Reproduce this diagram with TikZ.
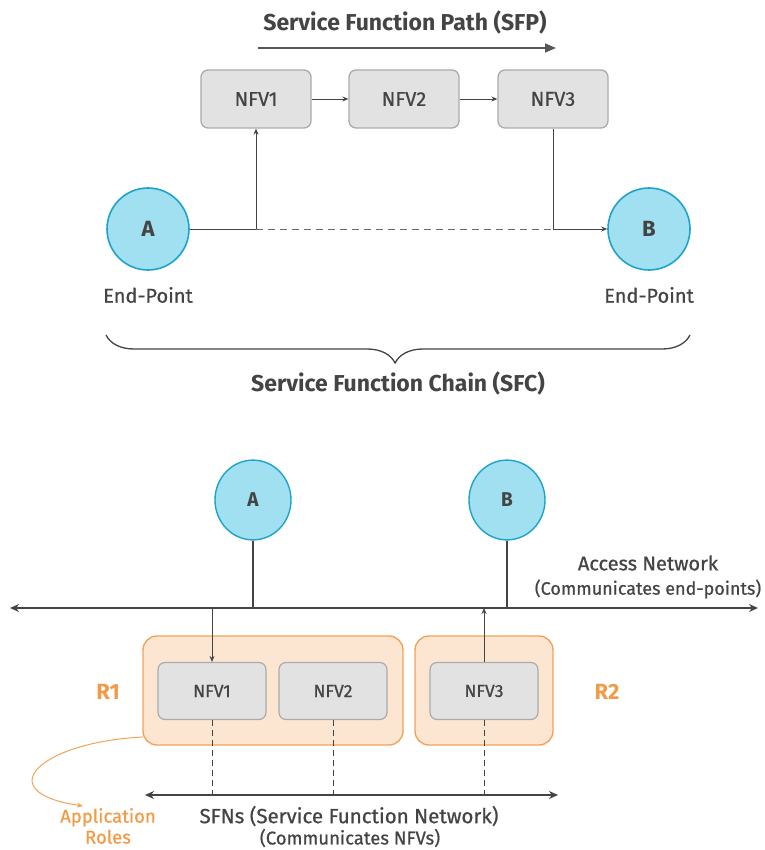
\documentclass[tikz,border=0pt]{standalone}
\usepackage{fontspec}
\setmainfont{Fira Sans}
\newfontfamily\medium{Fira Sans}[FakeBold=0.7]
\usetikzlibrary{arrows.meta,decorations.pathreplacing}
\definecolor{ink}{HTML}{444444}
\definecolor{endfill}{HTML}{A0E0F0}
\definecolor{endline}{HTML}{1FA3CC}
\definecolor{nfvfill}{HTML}{E2E2E2}
\definecolor{nfvline}{HTML}{ABABAB}
\definecolor{rolefill}{HTML}{FCE6D2}
\definecolor{roleline}{HTML}{F2A35A}
\definecolor{roletext}{HTML}{F29A45}
\tikzset{
  endpt/.style={circle, draw=endline, line width=1.6pt, fill=endfill, minimum size=82pt, inner sep=0pt, font=\bfseries\fontsize{22}{24}\selectfont, text=ink},
  endsm/.style={circle, draw=endline, line width=1.4pt, fill=endfill, minimum width=76pt, inner sep=0pt, yscale=1.05, font=\bfseries\fontsize{19}{22}\selectfont, text=ink},
  nfvbox/.style={draw=nfvline, line width=1.3pt, fill=nfvfill, rounded corners=7pt, minimum width=110pt, minimum height=58pt, inner sep=0pt, font=\medium\fontsize{20}{22}\selectfont, text=ink},
  nfvsm/.style={draw=nfvline, line width=1.2pt, fill=nfvfill, rounded corners=7pt, minimum width=108pt, minimum height=57pt, inner sep=0pt, font=\medium\fontsize{17.5}{20}\selectfont, text=ink},
  rolebox/.style={draw=roleline, line width=1.4pt, fill=rolefill, rounded corners=14pt, inner sep=0pt},
  conn/.style={draw=ink, line width=0.9pt},
  tip/.style={-{Stealth[length=6pt,width=5pt]}},
  lbl/.style={text=ink, inner sep=0pt},
  rolelbl/.style={text=roletext, inner sep=0pt, font=\bfseries\fontsize{22}{24}\selectfont},
}
\begin{document}
\begin{tikzpicture}[x=1pt,y=-1pt]
\useasboundingbox (0,0) rectangle (764,850);

% ---- upper part: path through the functions ----
\node[lbl, font=\bfseries\fontsize{23}{26}\selectfont] (sfp) at (405,22) {Service Function Path (SFP)};
\coordinate (sfpL) at (258,48);
\coordinate (sfpR) at (556,48);
\draw[draw=ink!90, line width=1.6pt, -{Triangle[length=11pt,width=9pt]}] (sfpL) -- (sfpR);

\node[nfvbox] (n1) at (256,99) {NFV1};
\node[nfvbox] (n2) at (404,99) {NFV2};
\node[nfvbox] (n3) at (553,99) {NFV3};
\draw[conn, tip] (n1) -- (n2);
\draw[conn, tip] (n2) -- (n3);

\node[endpt] (A) at (148,229) {A};
\node[endpt] (B) at (649,229) {B};
\coordinate (upA) at (n1.south |- A);
\coordinate (downB) at (n3.south |- B);
\draw[conn] (A.east) -- (upA);
\draw[conn, tip] (upA) -- (n1.south);
\draw[conn] (n3.south) -- (downB);
\draw[conn, tip] (downB) -- (B.west);
\draw[conn, dash pattern=on 7pt off 5pt, draw=ink!80] (upA) -- (downB);

\node[lbl, font=\medium\fontsize{20}{22}\selectfont] (epA) at (148,295) {End-Point};
\node[lbl, font=\medium\fontsize{20}{22}\selectfont] (epB) at (649,295) {End-Point};

\coordinate (brR) at (690,335);
\coordinate (brL) at (106,335);
\draw[draw=ink, line width=1.3pt, decorate, decoration={brace, amplitude=28pt, aspect=0.505}] (brR) -- (brL);
\node[lbl, font=\bfseries\fontsize{23}{26}\selectfont] (sfc) at (398,383) {Service Function Chain (SFC)};

% ---- lower part: networks and roles ----
\node[endsm] (A2) at (253,500) {A};
\node[endsm] (B2) at (507,500) {B};

\coordinate (accL) at (10,608);
\coordinate (accR) at (758,608);
\draw[draw=ink, line width=1.5pt, {Stealth[length=9pt,width=8pt]}-{Stealth[length=9pt,width=8pt]}] (accL) -- (accR);
\coordinate (aDrop) at (A2 |- accL);
\coordinate (bDrop) at (B2 |- accL);
\draw[draw=ink, line width=1.4pt] (A2.south) -- (aDrop);
\draw[draw=ink, line width=1.4pt] (B2.south) -- (bDrop);

\node[lbl, font=\medium\fontsize{20}{22}\selectfont] (acc1) at (648,563) {Access Network};
\node[lbl, font=\medium\fontsize{18}{20}\selectfont] (acc2) at (648,589) {(Communicates end-points)};

\node[rolebox, minimum width=260pt, minimum height=109pt] (R1box) at (273,690.5) {};
\node[rolebox, minimum width=138pt, minimum height=109pt] (R2box) at (484,690.5) {};

\node[nfvsm] (m1) at (212,691) {NFV1};
\node[nfvsm] (m2) at (333,691) {NFV2};
\node[nfvsm] (m3) at (484,691) {NFV3};

\coordinate (m1in) at (m1.north |- accL);
\coordinate (m3out) at (m3.north |- accL);
\draw[conn, line width=0.8pt, tip] (m1in) -- (m1.north);
\draw[conn, line width=0.8pt, tip] (m3.north) -- (m3out);

\coordinate (sfnL) at (145,795);
\coordinate (sfnR) at (558,795);
\draw[draw=ink, line width=1.5pt, {Stealth[length=9pt,width=8pt]}-{Stealth[length=9pt,width=8pt]}] (sfnL) -- (sfnR);
\foreach \m in {m1,m2,m3}{
  \coordinate (\m low) at (\m.south |- sfnL);
  \draw[draw=ink, line width=0.8pt, dash pattern=on 6pt off 4pt] (\m.south) -- (\m low);
}

\node[lbl, font=\medium\fontsize{20.5}{22}\selectfont] (sfn1) at (349,816) {SFNs (Service Function Network)};
\node[lbl, font=\medium\fontsize{18.5}{20}\selectfont] (sfn2) at (350,838) {(Communicates NFVs)};

\node[rolelbl] (r1) at (108,692) {R1};
\node[rolelbl] (r2) at (607,692) {R2};
\node[text=roletext, inner sep=0pt, align=center, font=\medium\fontsize{18.5}{21}\selectfont] (app) at (108,826) {Application\\Roles};

\coordinate (r1corner) at (143,737);
\coordinate (appTip) at (83,806);
\draw[draw=roleline, line width=1pt, -{Stealth[length=6pt,width=5pt]}] (r1corner) .. controls (40,742) and (-12,792) .. (appTip);
\end{tikzpicture}
\end{document}
